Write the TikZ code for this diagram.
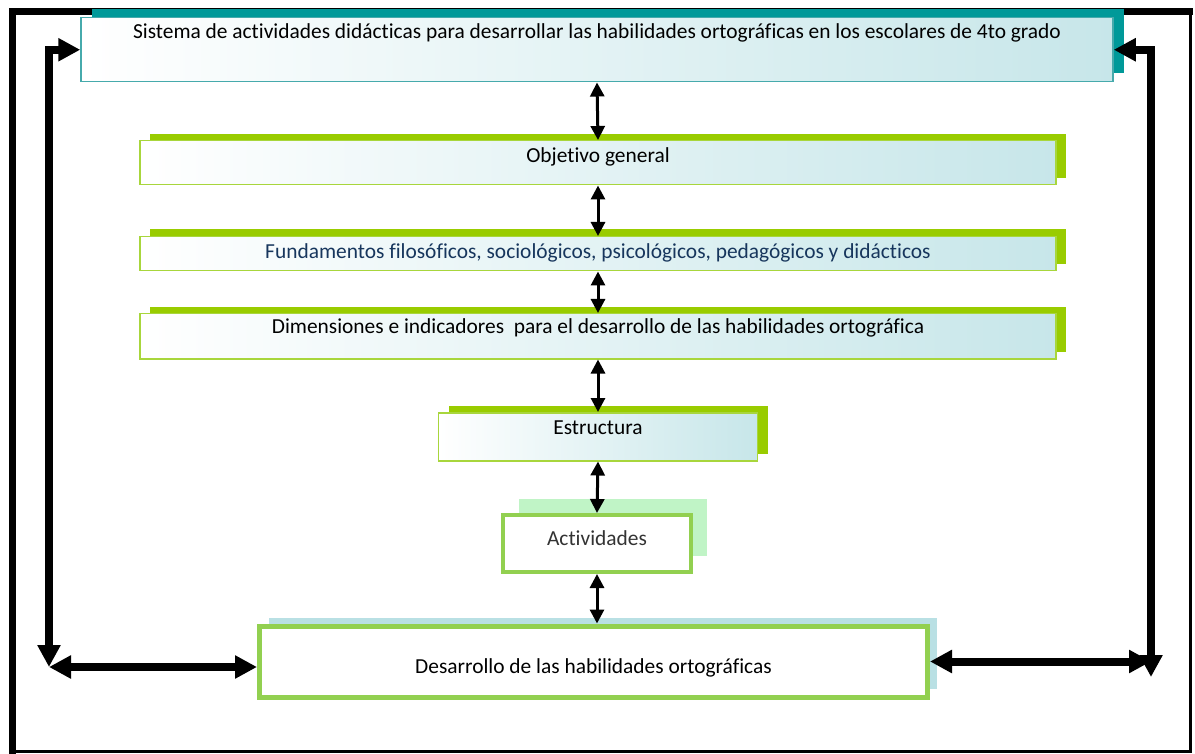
\documentclass[tikz,border=0pt]{standalone}
\usepackage{fontspec}
\setmainfont{Carlito}[Ligatures=NoCommon]
\usetikzlibrary{arrows.meta,positioning,shadows}

\definecolor{tealshade}{RGB}{0,153,153}
\definecolor{tealline}{RGB}{70,170,172}
\definecolor{paleblue}{RGB}{185,224,228}
\definecolor{limeshade}{RGB}{153,204,0}
\definecolor{limeline}{RGB}{168,214,60}
\definecolor{leafgreen}{RGB}{146,208,80}
\definecolor{mintshade}{RGB}{192,244,198}
\definecolor{navytext}{RGB}{23,54,93}

\begin{document}
\begin{tikzpicture}[x=1pt,y=-1pt]
  \tikzstyle{box} = [rectangle, inner sep=0pt, anchor=north, font={\fontsize{21.4}{25}\selectfont}]
  \tikzstyle{tealbox} = [box, draw=tealline, line width=1.5pt, left color=white, right color=paleblue!80,
    general shadow={fill=tealshade, shadow xshift=11pt, shadow yshift=9pt}]
  \tikzstyle{limebox} = [box, draw=limeline, line width=1.5pt, left color=white, right color=paleblue!80,
    general shadow={fill=limeshade, shadow xshift=10pt, shadow yshift=7pt}]
  \tikzstyle{link} = [line width=3pt, >={Triangle[length=14pt,width=14pt]}, <->]
  \tikzstyle{bigLink} = [line width=8pt, >={Triangle[length=22pt,width=22pt]}, <->]

  \useasboundingbox (0,0) rectangle (1195,754);

  % frame
  \draw[line width=7pt] (12,754) -- (12,12) -- (1193,12);
  \draw[line width=3pt] (1190,12) -- (1190,751) -- (12,751);

  \node[tealbox, minimum width=1032pt, text height=21pt, text depth=43pt] (sistema) at (597,17)
    {Sistema de actividades didácticas para desarrollar las habilidades ortográficas en los escolares de 4to grado};
  \node[limebox, minimum width=916pt, text height=22pt, text depth=22pt] (objetivo) at (598,140)
    {Objetivo general};
  \node[limebox, minimum width=916pt, text height=22pt, text depth=12pt, text=navytext,
    general shadow={fill=limeshade, shadow xshift=10pt, shadow yshift=8pt}] (fundamentos) at (598,236)
    {Fundamentos filosóficos, sociológicos, psicológicos, pedagógicos y didácticos};
  \node[limebox, minimum width=916pt, text height=20pt, text depth=25pt] (dimensiones) at (598,313)
    {Dimensiones e indicadores \ para el desarrollo de las habilidades ortográfica};
  \node[limebox, minimum width=319pt, text height=22pt, text depth=26pt] (estructura) at (598,412)
    {Estructura};
  \node[box, draw=leafgreen, line width=4pt, fill=white, text=black!80, minimum width=188pt,
    text height=30pt, text depth=27pt,
    general shadow={fill=mintshade, shadow xshift=16pt, shadow yshift=16pt}] (actividades) at (597,513)
    {Actividades};
  \node[box, draw=leafgreen, line width=5pt, fill=white, minimum width=668pt,
    text height=47.5pt, text depth=23.5pt,
    general shadow={fill=paleblue, shadow xshift=9pt, shadow yshift=8pt}] (desarrollo) at (593.5,623.5)
    {Desarrollo de las habilidades ortográficas};

  \coordinate (lcorner) at (49,667);
  \coordinate (rcorner) at (1151,677);

  \path[link]
  (sistema.south) edge (objetivo.north)
  (objetivo.south) edge (fundamentos.north)
  (fundamentos.south) edge (dimensiones.north)
  (dimensiones.south) edge (estructura.north)
  (estructura.south) edge (actividades.north)
  (actividades.south) edge (actividades.south |- desarrollo.north);

  \draw[bigLink] (sistema.west) -| (lcorner);
  \draw[bigLink] (sistema.east) -| (rcorner);
  \draw[bigLink] (lcorner) -- (lcorner -| desarrollo.west);
  \draw[bigLink] (desarrollo.east) -- (desarrollo.east -| rcorner);
\end{tikzpicture}
\end{document}
